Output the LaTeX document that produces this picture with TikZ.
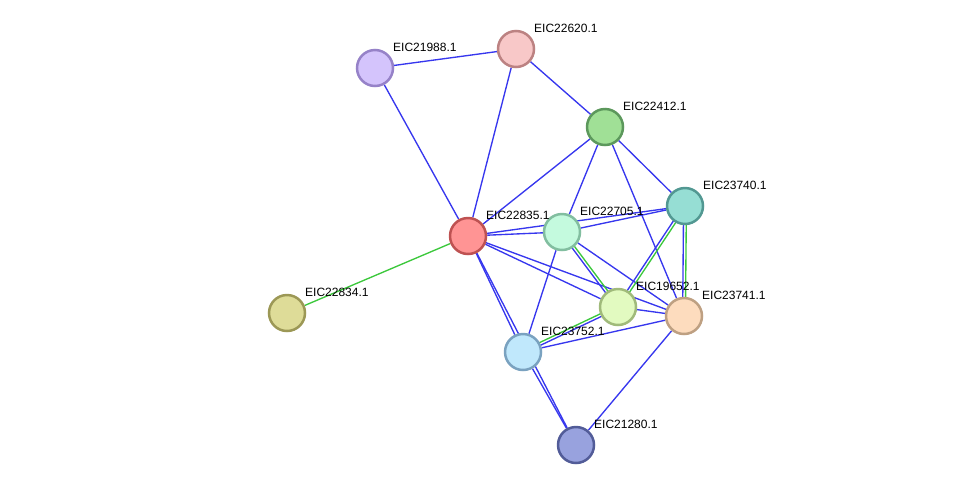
\documentclass[tikz,border=0pt]{standalone}
\usepackage{fontspec}
\setmainfont{Liberation Sans}
\usetikzlibrary{calc}
\usetikzlibrary{backgrounds}

\definecolor{edgeblue}{RGB}{55,55,238}
\definecolor{edgegreen}{RGB}{60,200,60}
\definecolor{fA}{RGB}{212,196,252}\definecolor{dA}{RGB}{150,130,200}
\definecolor{fB}{RGB}{248,200,200}\definecolor{dB}{RGB}{188,130,130}
\definecolor{fC}{RGB}{160,224,150}\definecolor{dC}{RGB}{92,152,92}
\definecolor{fD}{RGB}{150,222,212}\definecolor{dD}{RGB}{82,152,146}
\definecolor{fE}{RGB}{255,148,148}\definecolor{dE}{RGB}{190,82,82}
\definecolor{fF}{RGB}{196,250,222}\definecolor{dF}{RGB}{130,190,160}
\definecolor{fG}{RGB}{226,250,192}\definecolor{dG}{RGB}{160,186,122}
\definecolor{fH}{RGB}{253,220,190}\definecolor{dH}{RGB}{190,160,130}
\definecolor{fI}{RGB}{192,232,252}\definecolor{dI}{RGB}{122,162,192}
\definecolor{fJ}{RGB}{152,162,222}\definecolor{dJ}{RGB}{82,92,152}
\definecolor{fK}{RGB}{222,220,152}\definecolor{dK}{RGB}{156,152,86}

\begin{document}
\begin{tikzpicture}[x=1pt,y=-1pt]
  \tikzset{vertex/.style = {shape=circle,draw,line width=2.5pt,minimum size=36pt,inner sep=0pt}}
  \tikzset{tag/.style = {anchor=west,inner sep=0pt,font=\fontsize{12}{14}\selectfont}}
  \tikzset{blueedge/.style = {draw=edgeblue,line width=1.35pt}}
  \tikzset{greenedge/.style = {draw=edgegreen,line width=1.35pt}}
  \useasboundingbox (0,0) rectangle (976,491);

	\node[vertex,fill=fA,draw=dA] (E21988) at (375,68) {};
	\node[vertex,fill=fB,draw=dB] (E22620) at (516,49) {};
	\node[vertex,fill=fC,draw=dC] (E22412) at (605,127) {};
	\node[vertex,fill=fD,draw=dD] (E23740) at (685,206) {};
	\node[vertex,fill=fE,draw=dE] (E22835) at (468,236) {};
	\node[vertex,fill=fF,draw=dF] (E22705) at (562,232) {};
	\node[vertex,fill=fG,draw=dG] (E19652) at (618,307) {};
	\node[vertex,fill=fH,draw=dH] (E23741) at (684,316) {};
	\node[vertex,fill=fI,draw=dI] (E23752) at (523,352) {};
	\node[vertex,fill=fJ,draw=dJ] (E21280) at (576,445) {};
	\node[vertex,fill=fK,draw=dK] (E22834) at (287,313) {};

       \foreach \name/\txt in {E21988/EIC21988.1, E22620/EIC22620.1, E22412/EIC22412.1,
         E23740/EIC23740.1, E22835/EIC22835.1, E22705/EIC22705.1, E19652/EIC19652.1,
         E23741/EIC23741.1, E23752/EIC23752.1, E21280/EIC21280.1, E22834/EIC22834.1}
    \node[tag] (\name-tag) at ([shift={(18,-21)}]\name) {\txt};

  \begin{scope}[on background layer]
       \foreach \from/\to in {E21988/E22620, E21988/E22835, E22620/E22835, E22620/E22412,
         E22412/E22835, E22412/E22705, E22412/E23740, E22412/E23741, E22835/E22705,
         E22835/E23740, E22835/E19652, E22835/E23741, E22835/E23752, E22835/E21280,
         E22705/E23740, E22705/E23741, E22705/E23752, E19652/E23741, E23741/E23752,
         E23741/E21280, E23752/E21280}
    \draw[blueedge] (\from) -- (\to);
    \draw[greenedge] (E22835) -- (E22834);
       \foreach \from/\to in {E22705/E19652, E23740/E19652, E23740/E23741, E23752/E19652}{
    \draw[blueedge] ($(\from)!1.4pt!-90:(\to)$) -- ($(\to)!1.4pt!90:(\from)$);
    \draw[greenedge] ($(\from)!1.4pt!90:(\to)$) -- ($(\to)!1.4pt!-90:(\from)$);
       }
  \end{scope}
\end{tikzpicture}
\end{document}
